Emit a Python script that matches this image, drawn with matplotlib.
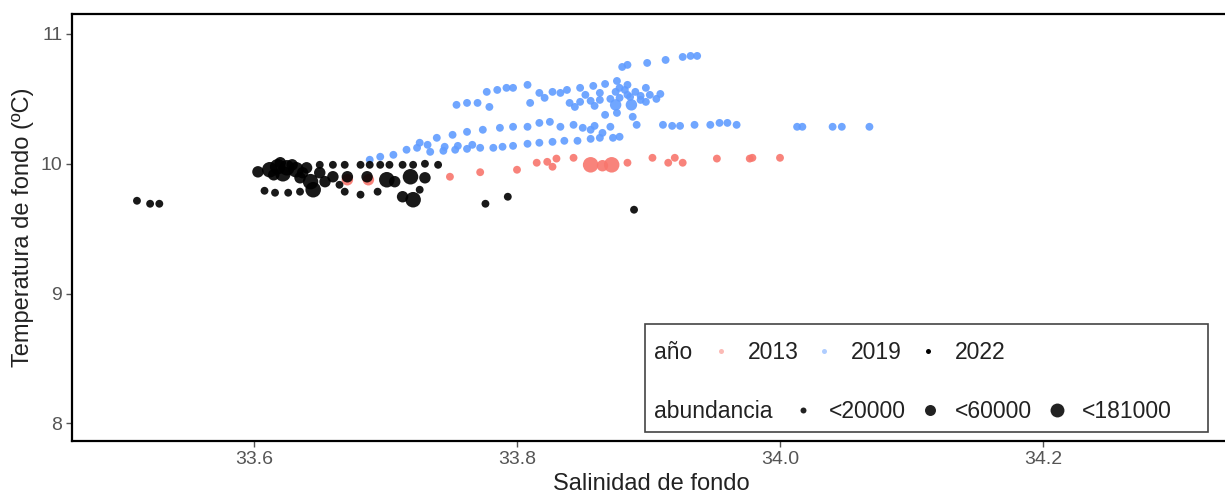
import matplotlib
matplotlib.use("Agg")
import matplotlib.pyplot as plt
from matplotlib.lines import Line2D
from matplotlib.patches import Rectangle
import numpy as np

plt.rcParams["font.family"] = ["Liberation Sans", "DejaVu Sans"]

# bottom salinity / temperature / abundance per station, by survey year
sal_2013 = [33.671, 33.687, 33.749, 33.772, 33.800, 33.815, 33.823, 33.827, 33.830, 33.843,
            33.856, 33.865, 33.872, 33.884, 33.903, 33.915, 33.920, 33.926, 33.952, 33.977,
            33.979, 34.000]
temp_2013 = [9.877, 9.877, 9.900, 9.935, 9.954, 10.008, 10.015, 9.977, 10.040, 10.046,
             9.992, 9.985, 9.992, 10.008, 10.046, 10.008, 10.046, 10.008, 10.040, 10.040,
             10.046, 10.046]
abund_2013 = [35000, 35000, 8000, 8000, 8000, 8000, 8000, 8000, 8000, 8000,
              120000, 40000, 150000, 8000, 8000, 8000, 8000, 8000, 8000, 8000,
              8000, 8000]

sal_2019 = [33.688, 33.696, 33.706, 33.716, 33.724, 33.732, 33.734, 33.744, 33.753, 33.762,
            33.772, 33.782, 33.789, 33.797, 33.808, 33.817, 33.827, 33.836, 33.846, 33.856,
            33.863, 33.873,
            33.745, 33.755, 33.766,
            33.726, 33.739, 33.751, 33.762, 33.774, 33.787, 33.797, 33.808, 33.817, 33.825,
            33.833, 33.843, 33.850, 33.859, 33.871, 33.856, 33.865, 33.878, 33.867, 33.876,
            33.888,
            33.891, 33.911, 33.918, 33.924, 33.935, 33.947, 33.954, 33.960, 33.967, 34.013,
            34.017, 34.040, 34.047, 34.068,
            33.754, 33.762, 33.770, 33.779, 33.777, 33.785, 33.792, 33.797, 33.808, 33.810,
            33.821, 33.833,
            33.817, 33.827, 33.838, 33.848, 33.858, 33.867, 33.876,
            33.840, 33.848, 33.856, 33.863, 33.871, 33.878, 33.886, 33.894, 33.901, 33.909,
            33.844, 33.859, 33.875, 33.882, 33.884, 33.890, 33.894, 33.887, 33.898, 33.906,
            33.880, 33.884, 33.899, 33.913, 33.926, 33.932, 33.937,
            33.852, 33.863, 33.875, 33.884, 33.898, 33.878]
temp_2019 = [10.031, 10.054, 10.069, 10.108, 10.123, 10.146, 10.092, 10.100, 10.108, 10.115,
             10.123, 10.123, 10.131, 10.138, 10.154, 10.162, 10.169, 10.177, 10.177, 10.192,
             10.200, 10.200,
             10.131, 10.138, 10.146,
             10.162, 10.200, 10.223, 10.246, 10.262, 10.277, 10.285, 10.285, 10.315, 10.323,
             10.285, 10.300, 10.277, 10.292, 10.285, 10.262, 10.238, 10.208, 10.377, 10.392,
             10.362,
             10.300, 10.300, 10.292, 10.292, 10.300, 10.300, 10.315, 10.315, 10.300, 10.285,
             10.285, 10.285, 10.285, 10.285,
             10.454, 10.469, 10.469, 10.438, 10.554, 10.569, 10.585, 10.585, 10.608, 10.469,
             10.508, 10.546,
             10.546, 10.554, 10.569, 10.585, 10.600, 10.615, 10.638,
             10.469, 10.477, 10.485, 10.492, 10.500, 10.508, 10.515, 10.523, 10.531, 10.538,
             10.438, 10.446, 10.454, 10.569, 10.608, 10.554, 10.492, 10.454, 10.585, 10.500,
             10.746, 10.762, 10.777, 10.800, 10.823, 10.831, 10.831,
             10.531, 10.546, 10.554, 10.531, 10.477, 10.585]
abund_2019 = [8000] * len(sal_2019)
abund_2019[91] = 30000
abund_2019[96] = 30000

sal_2022 = [33.511, 33.521, 33.528,
            33.612, 33.618, 33.625, 33.632, 33.622, 33.615, 33.637, 33.629, 33.640,
            33.608, 33.616, 33.626, 33.635, 33.645, 33.643,
            33.650, 33.660, 33.669, 33.681, 33.688, 33.696, 33.703, 33.713, 33.721, 33.730,
            33.740,
            33.650, 33.660, 33.671, 33.686, 33.701, 33.719, 33.721, 33.713, 33.694, 33.681,
            33.669, 33.726, 33.776, 33.793, 33.889,
            33.635, 33.654, 33.665, 33.707, 33.730, 33.620, 33.603]
temp_2022 = [9.715, 9.692, 9.692,
             9.954, 9.977, 9.969, 9.954, 9.923, 9.915, 9.931, 9.992, 9.969,
             9.792, 9.777, 9.777, 9.785, 9.800, 9.862,
             9.992, 9.992, 9.992, 9.992, 9.992, 9.992, 9.992, 9.992, 9.992, 10.000,
             9.992,
             9.931, 9.900, 9.900, 9.900, 9.877, 9.900, 9.723, 9.746, 9.785, 9.762,
             9.785, 9.800, 9.692, 9.746, 9.646,
             9.892, 9.862, 9.838, 9.862, 9.892, 10.008, 9.938]
abund_2022 = [8000, 8000, 8000,
              140000, 150000, 130000, 120000, 100000, 45000, 40000, 30000, 35000,
              8000, 8000, 8000, 8000, 110000, 90000,
              8000, 8000, 8000, 8000, 8000, 8000, 8000, 8000, 8000, 8000,
              8000,
              40000, 35000, 40000, 30000, 100000, 120000, 110000, 45000, 8000, 8000,
              8000, 8000, 8000, 8000, 8000,
              40000, 45000, 8000, 35000, 40000, 30000, 45000]

years = ["2013", "2019", "2022"]
year_colors = ["#F8766D", "#619CFF", "#000000"]
size_breaks = [20000, 60000, 181000]
size_labels = ["<20000", "<60000", "<181000"]
size_areas = [32, 68, 125]


def to_size(abund):
    idx = np.searchsorted(size_breaks, np.asarray(abund), side="right")
    return np.array(size_areas)[np.clip(idx, 0, 2)]


fig = plt.figure(figsize=(12.25, 4.98), dpi=100)
ax = fig.add_axes([72 / 1225, 57 / 498, 1158 / 1225, 427 / 498])

data = [(sal_2013, temp_2013, abund_2013),
        (sal_2019, temp_2019, abund_2019),
        (sal_2022, temp_2022, abund_2022)]
for (s, t, a), col in zip(data, year_colors):
    ax.scatter(s, t, s=to_size(a), c=col, alpha=0.9, linewidths=0, zorder=2)

ax.set_xlim(33.4616, 34.3422)
ax.set_ylim(7.864, 11.154)
ax.set_xticks([33.6, 33.8, 34.0, 34.2])
ax.set_xticklabels(["33.6", "33.8", "34.0", "34.2"])
ax.set_yticks([8, 9, 10, 11])
ax.set_yticklabels(["8", "9", "10", "11"])
ax.tick_params(axis="both", length=4, width=1, color="#555555", labelcolor="#555555",
               labelsize=14, pad=3)
for side in ["left", "top", "bottom"]:
    ax.spines[side].set_linewidth(1.6)
    ax.spines[side].set_color("black")
ax.spines["right"].set_visible(False)

ax.set_xlabel("Salinidad de fondo", fontsize=17, color="#222222", labelpad=4)
ax.set_ylabel("Temperatura de fondo (ºC)", fontsize=17, color="#222222", labelpad=5)

# legend box with two inline rows: year colour and abundance size
ax.add_patch(Rectangle((0.495, 0.021), 0.486, 0.253, transform=ax.transAxes,
                       facecolor="white", edgecolor="#444444", linewidth=1.2, zorder=4))
ax.text(0.5026, 0.208, "año", transform=ax.transAxes, fontsize=16.5, color="#222222",
        va="center", ha="left", zorder=5)
ax.text(0.5026, 0.068, "abundancia", transform=ax.transAxes, fontsize=16.5,
        color="#222222", va="center", ha="left", zorder=5)

year_handles = [Line2D([], [], marker="o", linestyle="", markersize=3.6,
                       markerfacecolor=c, markeredgewidth=0, alpha=0.5 if c != "#000000" else 1)
                for c in year_colors]
leg1 = ax.legend(year_handles, years, loc="center left", bbox_to_anchor=(0.5505, 0.208),
                 ncol=3, frameon=False, fontsize=16.5, handlelength=1.0,
                 handletextpad=0.67, columnspacing=0.62, borderpad=0, borderaxespad=0)
leg1.set_zorder(5)
ax.add_artist(leg1)

size_handles = [Line2D([], [], marker="o", linestyle="", markersize=ms,
                       markerfacecolor="#222222", markeredgewidth=0)
                for ms in [4.3, 7.9, 10.0]]
leg2 = ax.legend(size_handles, size_labels, loc="center left",
                 bbox_to_anchor=(0.6213, 0.068), ncol=3, frameon=False, fontsize=16.5,
                 handlelength=1.0, handletextpad=0.62, columnspacing=0.55,
                 borderpad=0, borderaxespad=0)
leg2.set_zorder(5)
for t in leg1.get_texts() + leg2.get_texts():
    t.set_color("#222222")

fig.savefig("out.png", dpi=100, facecolor="white")
